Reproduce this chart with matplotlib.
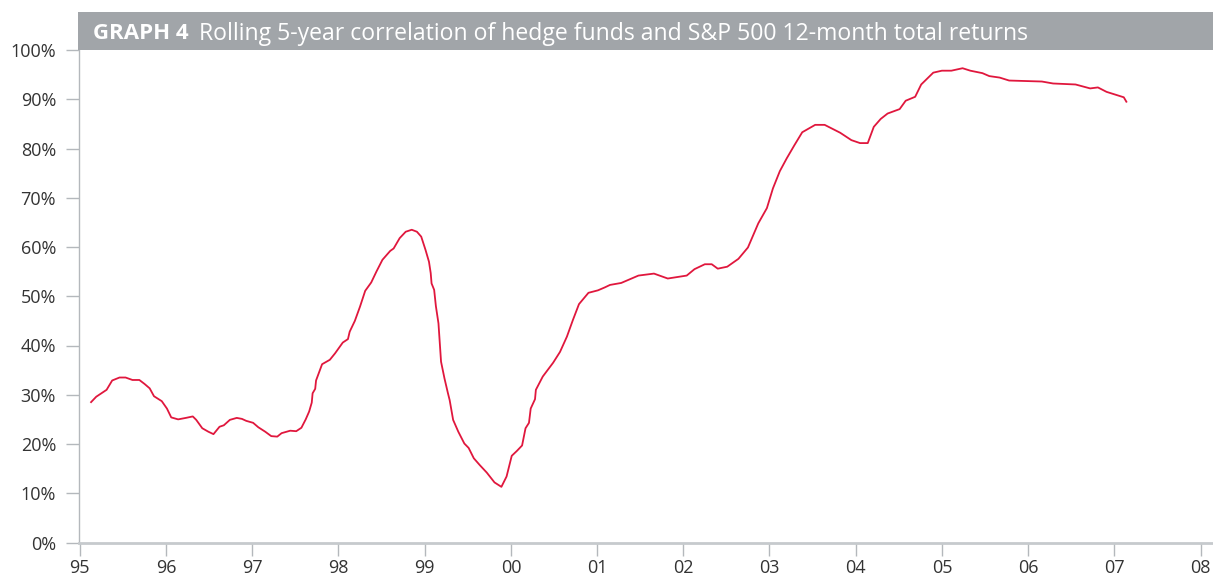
import matplotlib
matplotlib.use("Agg")
import matplotlib.pyplot as plt
from matplotlib.patches import Rectangle
import matplotlib.ticker as mticker

plt.rcParams['font.family'] = ['Open Sans', 'DejaVu Sans']

# Decimal-year dates and correlation values (%)
dates = [1995.13, 1995.19, 1995.31, 1995.375, 1995.46, 1995.53, 1995.61, 1995.69, 1995.75, 1995.81,
         1995.86, 1995.95, 1996.01, 1996.06, 1996.14, 1996.23, 1996.31, 1996.35, 1996.42, 1996.49,
         1996.55, 1996.62, 1996.67, 1996.74, 1996.82, 1996.88, 1996.93, 1997.01, 1997.07, 1997.15,
         1997.22, 1997.29, 1997.34, 1997.44, 1997.51, 1997.57, 1997.62, 1997.66, 1997.69, 1997.70,
         1997.73, 1997.74, 1997.81, 1997.90, 1997.96, 1998.05, 1998.11, 1998.13, 1998.19, 1998.25,
         1998.31, 1998.38, 1998.44, 1998.51, 1998.60, 1998.64, 1998.71, 1998.78, 1998.85, 1998.91,
         1998.96, 1999.01, 1999.05, 1999.07, 1999.08, 1999.11, 1999.13, 1999.16, 1999.19, 1999.23,
         1999.27, 1999.29, 1999.33, 1999.39, 1999.46, 1999.51, 1999.57, 1999.64, 1999.72, 1999.81,
         1999.89, 1999.95, 2000.01, 2000.07, 2000.13, 2000.17, 2000.21, 2000.23, 2000.28, 2000.29,
         2000.37, 2000.49, 2000.57, 2000.65, 2000.72, 2000.79, 2000.90, 2001.01, 2001.09, 2001.15,
         2001.28, 2001.48, 2001.66, 2001.82, 2002.04, 2002.13, 2002.25, 2002.33, 2002.40, 2002.51,
         2002.64, 2002.75, 2002.87, 2002.97, 2003.04, 2003.12, 2003.20, 2003.29, 2003.38, 2003.53,
         2003.64, 2003.82, 2003.95, 2004.05, 2004.14, 2004.21, 2004.29, 2004.37, 2004.51, 2004.58,
         2004.69, 2004.76, 2004.90, 2005.00, 2005.11, 2005.24, 2005.33, 2005.47, 2005.55, 2005.67,
         2005.78, 2005.98, 2006.16, 2006.29, 2006.55, 2006.72, 2006.81, 2006.91, 2007.11, 2007.14]

correlation = [28.5, 29.6, 31.0, 32.9, 33.5, 33.5, 33.0, 33.0, 32.2, 31.3,
               29.7, 28.7, 27.2, 25.4, 25.0, 25.3, 25.6, 24.9, 23.2, 22.5,
               22.0, 23.5, 23.8, 24.9, 25.3, 25.1, 24.7, 24.3, 23.4, 22.5,
               21.6, 21.5, 22.2, 22.7, 22.6, 23.3, 25.0, 26.6, 28.4, 30.3,
               31.2, 32.9, 36.2, 37.1, 38.4, 40.6, 41.3, 42.8, 45.0, 47.9,
               51.1, 52.8, 55.0, 57.4, 59.2, 59.7, 61.8, 63.1, 63.5, 63.1,
               62.1, 59.4, 57.0, 54.7, 52.6, 51.3, 48.0, 44.5, 36.7, 33.3,
               30.3, 28.9, 24.9, 22.5, 20.1, 19.2, 17.1, 15.7, 14.2, 12.2,
               11.3, 13.4, 17.6, 18.6, 19.7, 23.2, 24.3, 27.2, 29.1, 31.0,
               33.7, 36.5, 38.7, 41.8, 45.2, 48.4, 50.7, 51.2, 51.8, 52.3,
               52.7, 54.2, 54.6, 53.6, 54.2, 55.5, 56.5, 56.5, 55.6, 56.0,
               57.6, 59.9, 64.8, 67.9, 71.9, 75.4, 78.0, 80.7, 83.3, 84.8,
               84.8, 83.2, 81.7, 81.1, 81.1, 84.4, 86.0, 87.1, 88.0, 89.7,
               90.5, 93.0, 95.4, 95.8, 95.8, 96.3, 95.8, 95.3, 94.7, 94.4,
               93.8, 93.7, 93.6, 93.2, 93.0, 92.2, 92.4, 91.5, 90.4, 89.5]

year_ticks = [1995, 1996, 1997, 1998, 1999, 2000, 2001, 2002, 2003, 2004, 2005, 2006, 2007, 2008]
year_labels = ['95', '96', '97', '98', '99', '00', '01', '02', '03', '04', '05', '06', '07', '08']
pct_ticks = [0, 10, 20, 30, 40, 50, 60, 70, 80, 90, 100]

title_bold = "GRAPH 4"
title_text = "Rolling 5-year correlation of hedge funds and S&P 500 12-month total returns"

W, H = 1213, 577
fig = plt.figure(figsize=(W / 100, H / 100), dpi=100)

left_px, right_px, top_px, bottom_px = 79, 1213, 50, 542.5
ax = fig.add_axes([left_px / W, (H - bottom_px) / H, (right_px - left_px) / W, (bottom_px - top_px) / H])

ax.plot(dates, correlation, color='#e0173d', lw=1.3, solid_joinstyle='round')

ax.set_xlim(1994.99, 2008.145)
ax.set_ylim(0, 100)
ax.set_xticks(year_ticks)
ax.set_xticklabels(year_labels)
ax.set_yticks(pct_ticks)
ax.yaxis.set_major_formatter(mticker.FuncFormatter(lambda v, p: f"{int(v)}%"))

for s in ['top', 'right']:
    ax.spines[s].set_visible(False)
ax.spines['left'].set_color('#b4b8bc')
ax.spines['left'].set_linewidth(1.0)
ax.spines['bottom'].set_color('#c6cacd')
ax.spines['bottom'].set_linewidth(2.0)

ax.tick_params(axis='y', direction='out', length=9.5, width=1.0, color='#b4b8bc',
               labelsize=13, labelcolor='#333333', pad=7)
ax.tick_params(axis='x', direction='out', length=9, width=1.0, color='#b4b8bc',
               labelsize=13, labelcolor='#333333', pad=3)

# Title bar
bar_top, bar_bot = 12, 49.5
fig.patches.append(Rectangle((78 / W, (H - bar_bot) / H), (W - 78) / W, (bar_bot - bar_top) / H,
                             transform=fig.transFigure, facecolor='#a1a5a9', edgecolor='none', zorder=0))
ty = (H - 33.5) / H
fig.text(93 / W, ty, title_bold, color='white', fontsize=16, fontweight='bold', va='center', ha='left')
fig.text(199 / W, ty, title_text, color='white', fontsize=16.6, va='center', ha='left')

fig.savefig('out.png', dpi=100)
